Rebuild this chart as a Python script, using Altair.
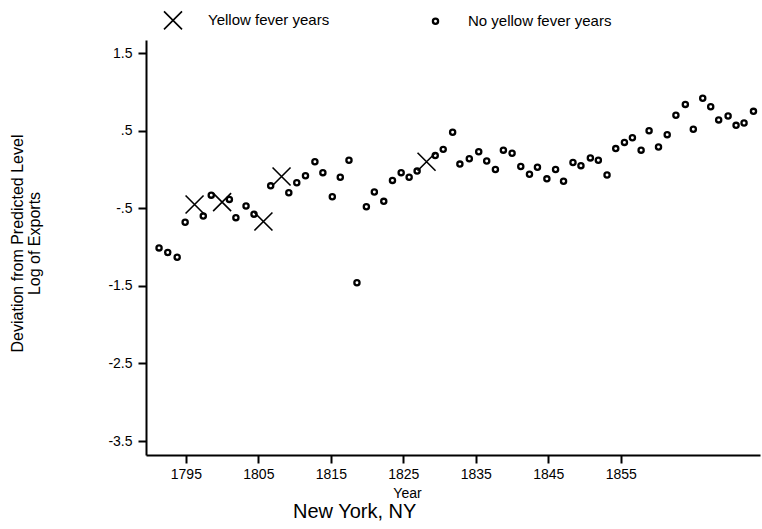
import altair as alt
import pandas as pd

# x positions as read against the printed year axis
year_pos = [1791.3, 1792.5, 1793.8, 1794.9, 1796.2, 1797.4, 1798.5, 1800.0, 1801.0, 1801.9,
            1803.3, 1804.4, 1805.7, 1806.7, 1808.2, 1809.2, 1810.3, 1811.5, 1812.8, 1813.9,
            1815.2, 1816.3, 1817.5, 1818.6, 1819.9, 1821.0, 1822.3, 1823.5, 1824.7, 1825.8,
            1826.9, 1828.2, 1829.4, 1830.5, 1831.8, 1832.8, 1834.1, 1835.4, 1836.5, 1837.7,
            1838.8, 1840.0, 1841.2, 1842.4, 1843.5, 1844.8, 1846.0, 1847.1, 1848.4, 1849.5,
            1850.8, 1851.9, 1853.1, 1854.3, 1855.5, 1856.6, 1857.8, 1858.9, 1860.2, 1861.4,
            1862.6, 1863.9, 1865.0, 1866.3, 1867.4, 1868.5, 1869.8, 1870.9, 1872.0, 1873.3]

deviation = [-1.01, -1.07, -1.13, -0.68, -0.45, -0.60, -0.33, -0.42, -0.385, -0.62,
             -0.47, -0.575, -0.67, -0.21, -0.09, -0.30, -0.17, -0.08, 0.10, -0.04,
             -0.35, -0.10, 0.12, -1.46, -0.48, -0.29, -0.41, -0.14, -0.04, -0.10,
             -0.02, 0.10, 0.18, 0.26, 0.48, 0.07, 0.14, 0.23, 0.11, 0.00,
             0.25, 0.21, 0.04, -0.06, 0.03, -0.12, 0.00, -0.15, 0.09, 0.05,
             0.15, 0.12, -0.07, 0.27, 0.35, 0.41, 0.25, 0.50, 0.29, 0.45,
             0.70, 0.84, 0.52, 0.92, 0.81, 0.64, 0.69, 0.57, 0.60, 0.75]

yellow_fever = [0, 0, 0, 0, 1, 0, 0, 1, 0, 0,
                0, 0, 1, 0, 1, 0, 0, 0, 0, 0,
                0, 0, 0, 0, 0, 0, 0, 0, 0, 0,
                0, 1, 0, 0, 0, 0, 0, 0, 0, 0,
                0, 0, 0, 0, 0, 0, 0, 0, 0, 0,
                0, 0, 0, 0, 0, 0, 0, 0, 0, 0,
                0, 0, 0, 0, 0, 0, 0, 0, 0, 0]

group_names = ["Yellow fever years", "No yellow fever years"]
x_ticks = [1795, 1805, 1815, 1825, 1835, 1845, 1855]
y_ticks = [1.5, 0.5, -0.5, -1.5, -2.5, -3.5]

df = pd.DataFrame({
    "Year": year_pos,
    "Deviation": deviation,
    "Group": [group_names[0] if f else group_names[1] for f in yellow_fever],
})

FONT = "Liberation Sans"
X_PATH = "M-1,-1L1,1M1,-1L-1,1"

legend = alt.Legend(
    orient="none", legendX=17, legendY=-30, direction="horizontal", title=None,
    labelFont=FONT, labelFontSize=15, labelColor="black", labelOffset=25,
    columnPadding=98, symbolStrokeColor="black", padding=0,
)

chart = alt.Chart(df).mark_point(filled=False, color="black", opacity=1).encode(
    x=alt.X("Year:Q",
            scale=alt.Scale(domain=[1789.5, 1874.2], nice=False, zero=False),
            axis=alt.Axis(values=x_ticks, format="d", title="Year",
                          titleX=261, titleY=31, titleBaseline="top",
                          titleFontSize=14, labelPadding=4)),
    y=alt.Y("Deviation:Q",
            scale=alt.Scale(domain=[-3.68, 1.67], nice=False, zero=False),
            axis=alt.Axis(values=y_ticks,
                          labelExpr="replace(toString(datum.value), '0.', '.')",
                          title=["Deviation from Predicted Level", "Log of Exports"],
                          titleX=-129, titleY=203, titleBaseline="middle",
                          titleAlign="center", titleAngle=270,
                          titleFontSize=16, titleLineHeight=17, labelPadding=6)),
    shape=alt.Shape("Group:N", scale=alt.Scale(domain=group_names, range=[X_PATH, "circle"]),
                    legend=legend),
    size=alt.Size("Group:N", scale=alt.Scale(domain=group_names, range=[324, 27]),
                  legend=legend),
    strokeWidth=alt.StrokeWidth("Group:N", scale=alt.Scale(domain=group_names, range=[1.6, 2.3]),
                                legend=legend),
).properties(
    width=614, height=415,
    autosize=alt.AutoSizeParams(type="none"),
    padding={"left": 146, "top": 40, "right": 2, "bottom": 74},
    background="white",
    title=alt.TitleParams("New York, NY", orient="bottom", anchor="start", frame="group",
                          dx=147, offset=2, fontSize=20, fontWeight="normal",
                          font=FONT, color="black"),
).configure_view(stroke=None).configure_axis(
    grid=False, domainColor="black", domainWidth=2, tickColor="black", tickWidth=2,
    tickSize=8, labelFont=FONT, labelFontSize=14, labelColor="black",
    titleFont=FONT, titleColor="black", titleFontWeight="normal",
)

chart.save("out.html", embed_options={"renderer": "svg", "actions": False})
